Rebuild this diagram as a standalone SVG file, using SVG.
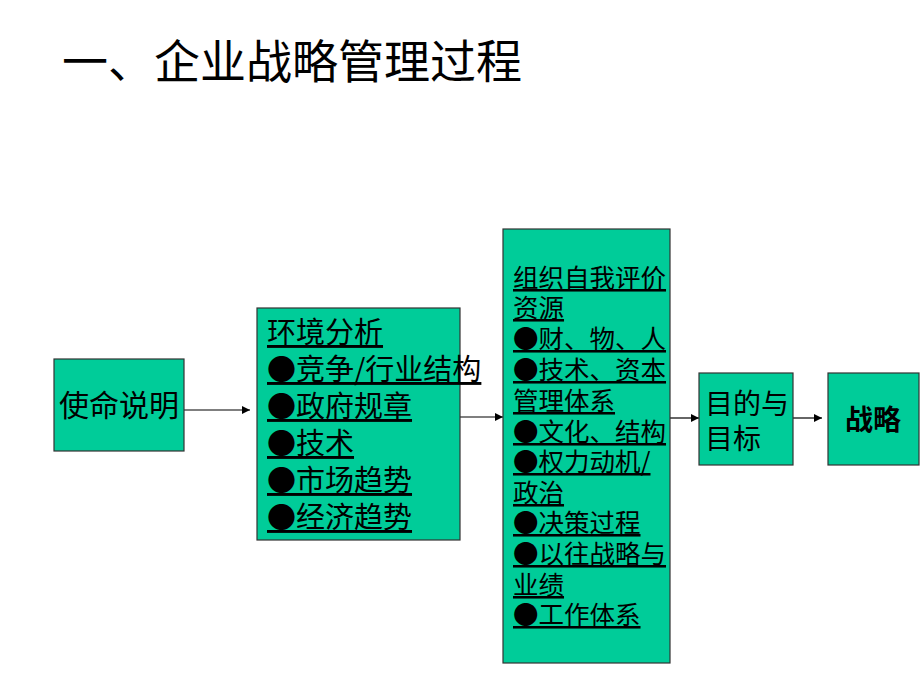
<svg xmlns="http://www.w3.org/2000/svg" width="920" height="690" viewBox="0 0 920 690">
<defs>
<marker id="ah" viewBox="0 0 10 10" refX="10" refY="5" markerWidth="8" markerHeight="8" markerUnits="userSpaceOnUse" orient="auto"><path d="M0,0 L10,5 L0,10 z" fill="#000"/></marker>
<style>
.box{fill:#00CC99;stroke:#333;stroke-width:1.2}
.t{font-family:"Noto Sans CJK SC","Liberation Sans",sans-serif;fill:#000}
.u{text-decoration:underline}
.c{stroke:#000;stroke-width:1.2;fill:none;marker-end:url(#ah)}
</style>
</defs>
<rect width="920" height="690" fill="#fff"/>
<text class="t" x="62" y="78" font-size="46">一、企业战略管理过程</text>
<g id="connectors">
<line class="c" x1="184" y1="410" x2="250" y2="410"/>
<line class="c" x1="460" y1="417" x2="503" y2="417"/>
<line class="c" x1="670" y1="418" x2="699" y2="418"/>
<line class="c" x1="793" y1="418" x2="822" y2="418"/>
</g>
<g id="mission">
<rect class="box" x="54" y="359" width="130" height="92"/>
<text class="t" x="119" y="416" font-size="30" text-anchor="middle">使命说明</text>
</g>
<g id="env">
<rect class="box" x="257" y="308" width="203" height="232"/>
<g class="t u" font-size="29">
<text x="267" y="343">环境分析</text>
<text x="267" y="380">●竞争/行业结构</text>
<text x="267" y="417">●政府规章</text>
<text x="267" y="454">●技术</text>
<text x="267" y="491">●市场趋势</text>
<text x="267" y="528">●经济趋势</text>
</g>
</g>
<g id="org">
<rect class="box" x="503" y="229" width="167" height="434"/>
<g class="t u" font-size="25.5">
<text x="513" y="287">组织自我评价</text>
<text x="513" y="317">资源</text>
<text x="513" y="348">●财、物、人</text>
<text x="513" y="379">●技术、资本</text>
<text x="513" y="410">管理体系</text>
<text x="513" y="441">●文化、结构</text>
<text x="513" y="471">●权力动机/</text>
<text x="513" y="502">政治</text>
<text x="513" y="532">●决策过程</text>
<text x="513" y="563">●以往战略与</text>
<text x="513" y="594">业绩</text>
<text x="513" y="624">●工作体系</text>
</g>
</g>
<g id="goals">
<rect class="box" x="699" y="373" width="94" height="92"/>
<text class="t" x="705" y="414" font-size="28">目的与</text>
<text class="t" x="705" y="449" font-size="28">目标</text>
</g>
<g id="strategy">
<rect class="box" x="828" y="373" width="91" height="92"/>
<text class="t" x="873" y="430" font-size="28" font-weight="bold" text-anchor="middle">战略</text>
</g>
</svg>
